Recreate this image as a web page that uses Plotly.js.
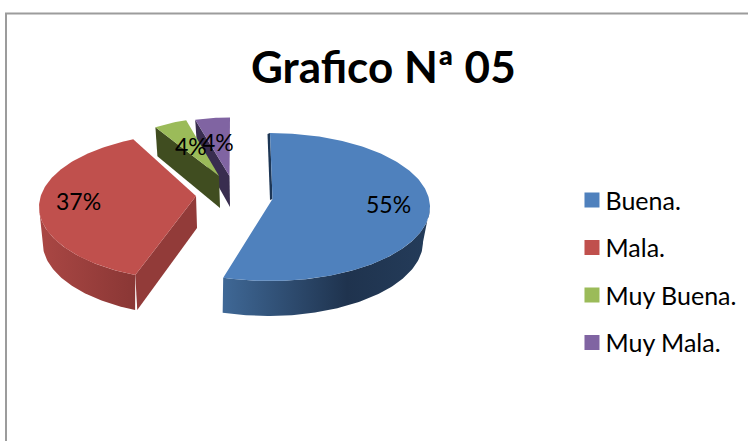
<!DOCTYPE html>
<html><head><meta charset="utf-8">
<script src="https://cdn.plot.ly/plotly-3.0.1.min.js"></script>
<style>html,body{margin:0;padding:0;background:#fff}</style>
</head><body><div id="chart" style="width:748px;height:441px"></div>
<script>
// Data
const categories = ["Buena.", "Mala.", "Muy Buena.", "Muy Mala."];
const values = [55, 37, 4, 4];
const chartTitle = "Grafico Nª 05";

// Styles and 3D-look geometry, one entry per slice
const topColors = ["#4f81bd", "#c0504d", "#9bbb59", "#8064a2"];
const centers = [[270,207],[197,207],[219,192],[230,191.5]];
const radii = [[160,74],[158,74],[132,74],[140,74]];
const baseShift = [[-2,35,155],[-2.5,35,152],[0,0,0],[0,0,0]];
const apexes = [[272.5,199],[196,196],[219,176],[229.5,176]];
const rotation = [0,5,0,0];
const arcScale = [0.995,1,1,1];
const cutDepth = [[-2.5,1,-2.5,1],[2,35,1,32],[2,29,1,32],[2,29,0.5,31]];
const cutColors = ["#1d3655","#923b39","#404d20","#392d4f"];
const sideScales = [
  [[0,"#3f6896"],[0.6,"#1f334e"],[1,"#243c5a"]],
  [[0,"#aa4744"],[1,"#8a3735"]],null,null];
const labelPos = [[388,204],[78,201],[191,146],[218,142]];

const rad = d => d*Math.PI/180;
function arc(c,r,a,b){
  const pts=[]; const n=Math.max(8,Math.ceil(Math.abs(b-a)));
  for(let i=0;i<=n;i++){const t=rad(a+(b-a)*i/n);pts.push([c[0]+r[0]*Math.sin(t),c[1]-r[1]*Math.cos(t)]);}
  return pts;
}
const total = values.reduce((s,v)=>s+v,0);
let cum=0; const spans=values.map(v=>{const s=[cum,cum+v/total*360];cum=s[1];return s;});
const base={type:"scatter",mode:"lines",line:{width:0},fill:"toself",hoverinfo:"skip",showlegend:false};
function poly(pts,color,scale){
  const t=Object.assign({},base,{x:pts.map(p=>p[0]),y:pts.map(p=>p[1])});
  if(scale) t.fillgradient={type:"horizontal",colorscale:scale}; else t.fillcolor=color;
  return t;
}
const traces=[];
[3,2,1,0].forEach(i=>{
  const a=spans[i][0]+rotation[i], b=a+(spans[i][1]-spans[i][0])*arcScale[i];
  const face=arc(centers[i],radii[i],a,b);
  const P0=face[0], A=apexes[i], d=cutDepth[i];
  traces.push(poly([P0,A,[A[0]+d[2],A[1]+d[3]],[P0[0]+d[0],P0[1]+d[1]]],cutColors[i]));
  if(sideScales[i]){
    const from=Math.max(a,90), to=Math.min(b,270);
    const upper=arc(centers[i],radii[i],from,to);
    const s=baseShift[i];
    const lower=arc([centers[i][0]+s[0],centers[i][1]+s[1]],[s[2],radii[i][1]],from,to).reverse();
    traces.push(poly(upper.concat(lower),null,sideScales[i]));
  }
  traces.push(poly(face.concat([A]),topColors[i]));
});
categories.forEach((c,i)=>traces.push({type:"scatter",mode:"markers",x:[null],y:[null],name:c,legendgroup:c,
  marker:{symbol:"square",size:15,color:topColors[i]},hoverinfo:"skip",showlegend:true}));

const annotations=values.map((v,i)=>({x:labelPos[i][0],y:labelPos[i][1],xref:"x",yref:"y",text:v+"%",showarrow:false,
  font:{family:"Lato",size:23,color:"#000"},xanchor:"center",yanchor:"middle"}));
annotations.push({x:383.5,y:66,xref:"x",yref:"y",text:"<b>"+chartTitle+"</b>",showarrow:false,
  font:{family:"Lato",size:44,color:"#000"},xanchor:"center",yanchor:"middle"});

const layout={width:748,height:441,margin:{l:0,r:0,t:0,b:0},paper_bgcolor:"#fff",plot_bgcolor:"#fff",
  xaxis:{range:[0,748],visible:false,fixedrange:true},
  yaxis:{range:[441,0],visible:false,fixedrange:true},
  showlegend:true,
  legend:{x:0.756,y:0.598,xanchor:"left",yanchor:"top",bgcolor:"rgba(0,0,0,0)",traceorder:"grouped",tracegroupgap:12,
    font:{family:"Lato",size:25,color:"#000"},itemclick:false,itemdoubleclick:false},
  annotations,
  shapes:[
    {type:"line",xref:"x",yref:"y",x0:6,x1:6,y0:13.5,y1:441,line:{color:"#9c9c9c",width:2}},
    {type:"line",xref:"x",yref:"y",x0:5,x1:748,y0:13.5,y1:13.5,line:{color:"#9c9c9c",width:2}}
  ]};
Plotly.newPlot("chart",traces,layout,{displayModeBar:false}).then(()=>{
  document.querySelectorAll("#chart .legendsymbols").forEach(g=>g.setAttribute("transform","translate(6.5,0)"));
});
</script></body></html>
